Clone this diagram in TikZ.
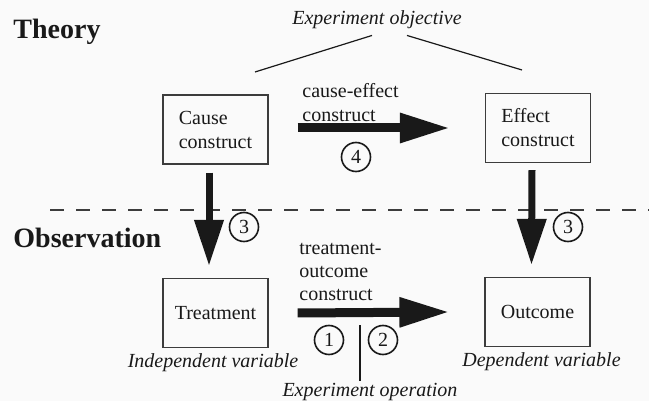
\documentclass[tikz,border=0pt]{standalone}
\usepackage{fontspec}
\setmainfont{Liberation Serif}
\usepackage{tikz}
\usetikzlibrary{arrows.meta,positioning}
\definecolor{exink}{RGB}{25,25,25}
\definecolor{exline}{RGB}{60,60,60}
\definecolor{expaper}{RGB}{250,250,250}
\tikzset{
  exbox/.style={draw=exline, line width=.6pt, align=left, minimum width=52.5pt, minimum height=34.5pt, inner sep=3pt},
  exnum/.style={draw=exink, circle, line width=.8pt, minimum size=14.5pt, inner sep=0pt},
  exnote/.style={font=\fontsize{10}{12}\selectfont\itshape, inner sep=0pt},
  exhead/.style={font=\fontsize{14}{16}\selectfont\bfseries, anchor=west, inner sep=0pt},
  exlabel/.style={align=left, anchor=west, inner sep=0pt},
  exarr/.style={-{Triangle[length=25pt,width=14pt]}, line width=4.5pt, draw=exink},
  exarrdown/.style={-{Triangle[length=23pt,width=14pt]}, line width=3.5pt, draw=exink},
  exthin/.style={draw=exink, line width=.6pt},
  exsplit/.style={draw=exline, line width=.6pt, dash pattern=on 7pt off 6pt}
}
\begin{document}
\begin{tikzpicture}[x=.5pt, y=-.5pt, font=\fontsize{10}{12}\selectfont, text=exink]
  \fill[expaper] (0,0) rectangle (649,401);
  \useasboundingbox (0,0) rectangle (649,401);
  % levels
  \node[exhead] (theory) at (13,32) {Theory};
  \node[exhead] (observation) at (13,238) {Observation};
  \coordinate (splitl) at (50,210);
  \coordinate (splitr) at (649,210);
  \draw[exsplit] (splitl) -- (splitr);
  % constructs and variables
  \node[exbox] (cause) at (215.5,129.5) {Cause\\construct};
  \node[exbox] (effect) at (538,128) {Effect\\construct};
  \node[exbox] (treatment) at (215.5,313) {Treatment};
  \node[exbox] (outcome) at (537.5,312) {Outcome};
  \node[exnote, below=2.5pt of treatment, xshift=-1.25pt] (indep) {Independent variable};
  \node[exnote, below=2.5pt of outcome, xshift=2pt] (dep) {Dependent variable};
  % objective
  \node[exnote] (objective) at (377,20) {Experiment objective};
  \coordinate (objleft) at (255,72);
  \coordinate (objright) at (522,70);
  \draw[exthin] ([xshift=-2.5pt,yshift=-3pt]objective.south) -- (objleft);
  \draw[exthin] ([xshift=15pt,yshift=-3pt]objective.south) -- (objright);
  % arrows
  \draw[exarr] ([xshift=14.5pt,yshift=.75pt]cause.east) -- ([xshift=-17.5pt]effect.west);
  \draw[exarr] ([xshift=14.5pt]treatment.east) -- ([xshift=-17.5pt]outcome.west);
  \draw[exarrdown] ([xshift=-3.25pt,yshift=-4pt]cause.south) -- ([xshift=-3.25pt,yshift=6pt]treatment.north);
  \draw[exarrdown] ([xshift=-3pt,yshift=-3.5pt]effect.south) -- ([xshift=-3pt,yshift=6pt]outcome.north);
  \node[exlabel] (celabel) at (302,103) {cause-effect\\construct};
  \node[exlabel, font=\fontsize{10}{11.3}\selectfont] (tolabel) at (299,272) {treatment-\\outcome\\construct};
  % numbered validities
  \node[exnum] (n4) at (356,157) {4};
  \node[exnum] (n3l) at (244,227) {3};
  \node[exnum] (n3r) at (568,227) {3};
  \node[exnum] (n1) at (329,340) {1};
  \node[exnum] (n2) at (383,340) {2};
  % operation
  \node[exnote] (operation) at (370,392) {Experiment operation};
  \coordinate (optop) at (360,325);
  \draw[exthin] ([xshift=-5pt,yshift=1pt]operation.north) -- (optop);
\end{tikzpicture}
\end{document}
